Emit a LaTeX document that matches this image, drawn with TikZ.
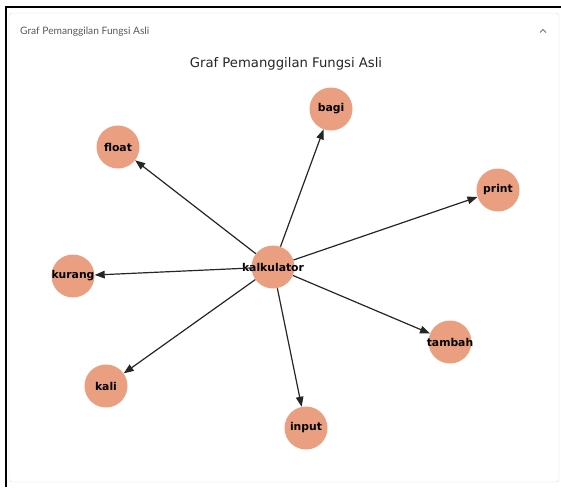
\documentclass[tikz,border=0pt]{standalone}
\usepackage{fontspec}
\usetikzlibrary{arrows.meta,positioning}
\newfontfamily\plotfont{DejaVu Sans}
\newfontfamily\uifont{Lato}
\definecolor{salmonfn}{RGB}{233,159,128}
\definecolor{cardline}{RGB}{222,222,222}

\begin{document}
\begin{tikzpicture}[x=1pt,y=-1pt]
\tikzstyle{func}=[circle,fill=salmonfn,minimum size=43pt,inner sep=0pt,font=\plotfont\bfseries\fontsize{10.8}{12}\selectfont]
\tikzstyle{called}=[-{Triangle[length=10pt,width=7.5pt]},line width=1.2pt,black!85]

\useasboundingbox (0,0) rectangle (561,487);
\fill[white] (0,0) rectangle (561,487);
\draw[cardline,rounded corners=3pt] (9,13) rectangle (559,482);
\draw[line width=1.5pt] (6,487) -- (6,7) -- (561,7);

\node[font=\uifont\fontsize{10.2}{11}\selectfont,text=black!65,anchor=west,inner sep=0pt] (header) at (20,32) {Graf Pemanggilan Fungsi Asli};
\draw[black!55,line width=0.9pt] (540,32.5) -- (543,29.5) -- (546,32.5);

\node[font=\plotfont\fontsize{13.2}{15}\selectfont,text=black!85] (title) at (286,64) {Graf Pemanggilan Fungsi Asli};

\node[func] (kalkulator) at (273,267) {\makebox[0pt]{kalkulator}};
\node[func] (bagi) at (331,109) {\makebox[0pt]{bagi}};
\node[func] (float) at (118,147) {\makebox[0pt]{float}};
\node[func] (print) at (498,190) {\makebox[0pt]{print}};
\node[func] (kurang) at (73,276) {\makebox[0pt]{kurang}};
\node[func] (tambah) at (450,342) {\makebox[0pt]{tambah}};
\node[func] (kali) at (106,386) {\makebox[0pt]{kali}};
\node[func] (input) at (306,428) {\makebox[0pt]{input}};

\path
  (kalkulator) edge [called] (bagi)
  (kalkulator) edge [called] (float)
  (kalkulator) edge [called] (print)
  (kalkulator) edge [called] (kurang)
  (kalkulator) edge [called] (tambah)
  (kalkulator) edge [called] (kali)
  (kalkulator) edge [called] (input);
\end{tikzpicture}
\end{document}
